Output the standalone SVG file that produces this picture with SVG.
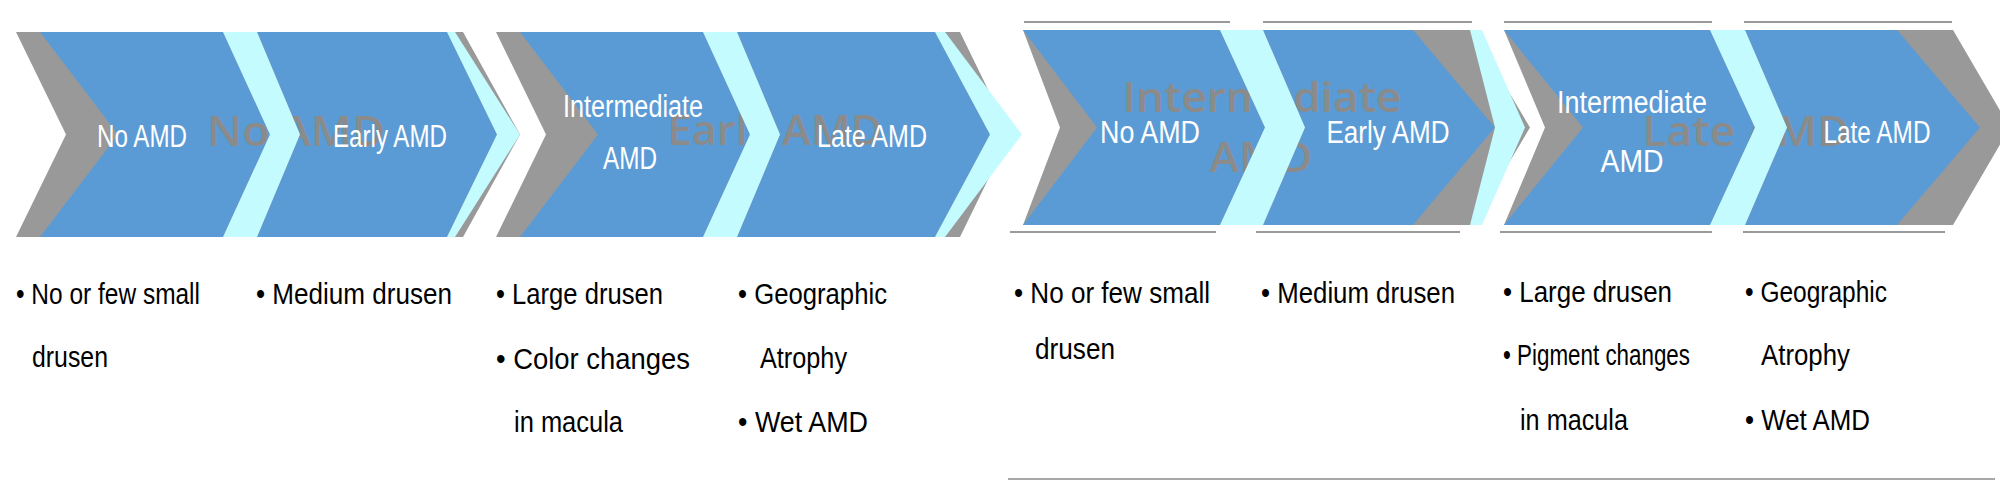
<svg xmlns="http://www.w3.org/2000/svg" width="2000" height="481" viewBox="0 0 2000 481">
<style>
.bg{fill:#999999}
.bl{fill:#5B9BD5}
.cy{fill:#C4FBFF}
.gl{font-family:"Open Sans","Liberation Sans",sans-serif;font-size:41px;font-weight:600;fill:#8b8b8b;text-anchor:middle}
.wl{font-family:"Liberation Sans",Arial,sans-serif;font-size:31px;fill:#ffffff;text-anchor:middle}
.bt{font-family:"Liberation Sans",Arial,sans-serif;font-size:30px;fill:#000000}
.rail{stroke:#9a9a9a;stroke-width:2;fill:none}
</style>
<rect width="2000" height="481" fill="#ffffff"/>

<g id="stage-backdrops">
  <polygon class="bg" points="16,32 463,32 520,134.5 463,237 16,237 66,134.5"/>
  <polygon class="bg" points="496,32 960,32 1010,134.5 960,237 496,237 546,134.5"/>
  <polygon class="bg" points="1023,30 1472,30 1530,127.5 1472,225 1023,225 1060,127.5"/>
  <polygon class="bg" points="1504,30 1953,30 2010,127.5 1953,225 1504,225 1545,127.5"/>
</g>

<g id="node-L1"><polygon class="bl" points="40,32 223,32 270,134.5 223,237 40,237 118,134.5"/></g>
<g id="node-L2"><polygon class="bl" points="257,32 447,32 497,134.5 447,237 257,237 300,134.5"/></g>
<g id="node-L3"><polygon class="bl" points="520,32 703,32 750,134.5 703,237 520,237 598,134.5"/></g>
<g id="node-L4"><polygon class="bl" points="737,32 935,32 990,134.5 935,237 737,237 780,134.5"/></g>
<g id="node-R1"><polygon class="bl" points="1023,30 1220,30 1265,127.5 1220,225 1023,225 1097,127.5"/></g>
<g id="node-R2"><polygon class="bl" points="1263,30 1413,30 1495,127.5 1413,225 1263,225 1305,127.5"/></g>
<g id="node-R3"><polygon class="bl" points="1504,30 1710,30 1755,127.5 1710,225 1504,225 1583,127.5"/></g>
<g id="node-R4"><polygon class="bl" points="1745,30 1897,30 1980,127.5 1897,225 1745,225 1787,127.5"/></g>

<g id="stage-labels">
  <text class="gl" x="296" y="146" textLength="178" lengthAdjust="spacingAndGlyphs">No AMD</text>
  <text class="gl" x="775" y="145" textLength="215" lengthAdjust="spacingAndGlyphs">Early AMD</text>
  <text class="gl" x="1262" y="112" textLength="279" lengthAdjust="spacingAndGlyphs">Intermediate</text>
  <text class="gl" x="1261" y="172" textLength="103" lengthAdjust="spacingAndGlyphs">AMD</text>
  <text class="gl" x="1746" y="146" textLength="207" lengthAdjust="spacingAndGlyphs">Late AMD</text>
</g>

<g id="connectors">
  <polygon class="cy" points="223,32 257,32 300,134.5 257,237 223,237 270,134.5"/>
  <polygon class="cy" points="447,32 455,32 520,134.5 455,237 447,237 497,134.5"/>
  <polygon class="cy" points="703,32 737,32 780,134.5 737,237 703,237 750,134.5"/>
  <polygon class="cy" points="935,32 945,32 1022,134.5 945,237 935,237 990,134.5"/>
  <polygon class="cy" points="1220,30 1263,30 1305,127.5 1263,225 1220,225 1265,127.5"/>
  <polygon class="cy" points="1470,30 1482,30 1525,127.5 1482,225 1470,225 1495,127.5"/>
  <polygon class="cy" points="1710,30 1745,30 1787,127.5 1745,225 1710,225 1755,127.5"/>
</g>

<g id="rails">
  <line class="rail" x1="1024" y1="22" x2="1230" y2="22"/>
  <line class="rail" x1="1263" y1="22" x2="1472" y2="22"/>
  <line class="rail" x1="1504" y1="22" x2="1712" y2="22"/>
  <line class="rail" x1="1744" y1="22" x2="1952" y2="22"/>
  <line class="rail" x1="1010" y1="232" x2="1216" y2="232"/>
  <line class="rail" x1="1256" y1="232" x2="1460" y2="232"/>
  <line class="rail" x1="1500" y1="232" x2="1712" y2="232"/>
  <line class="rail" x1="1743" y1="232" x2="1945" y2="232"/>
  <line x1="1008" y1="479" x2="1995" y2="479" stroke="#8a8a8a" stroke-width="1.5"/>
</g>

<g id="node-labels">
  <text class="wl" x="142" y="147" textLength="90" lengthAdjust="spacingAndGlyphs">No AMD</text>
  <text class="wl" x="390" y="147" textLength="114" lengthAdjust="spacingAndGlyphs">Early AMD</text>
  <text class="wl" x="633" y="117" textLength="140" lengthAdjust="spacingAndGlyphs">Intermediate</text>
  <text class="wl" x="630" y="169" textLength="54" lengthAdjust="spacingAndGlyphs">AMD</text>
  <text class="wl" x="872" y="147" textLength="110" lengthAdjust="spacingAndGlyphs">Late AMD</text>
  <text class="wl" x="1150" y="143" textLength="100" lengthAdjust="spacingAndGlyphs">No AMD</text>
  <text class="wl" x="1388" y="143" textLength="123" lengthAdjust="spacingAndGlyphs">Early AMD</text>
  <text class="wl" x="1632" y="113" textLength="150" lengthAdjust="spacingAndGlyphs">Intermediate</text>
  <text class="wl" x="1632" y="172" textLength="63" lengthAdjust="spacingAndGlyphs">AMD</text>
  <text class="wl" x="1877" y="143" textLength="107" lengthAdjust="spacingAndGlyphs">Late AMD</text>
</g>

<g id="descriptions">
  <text class="bt" x="16" y="304" textLength="184" lengthAdjust="spacingAndGlyphs">• No or few small</text>
  <text class="bt" x="32" y="367" textLength="76" lengthAdjust="spacingAndGlyphs">drusen</text>
  <text class="bt" x="256" y="304" textLength="196" lengthAdjust="spacingAndGlyphs">• Medium drusen</text>
  <text class="bt" x="496" y="304" textLength="167" lengthAdjust="spacingAndGlyphs">• Large drusen</text>
  <text class="bt" x="496" y="369" textLength="194" lengthAdjust="spacingAndGlyphs">• Color changes</text>
  <text class="bt" x="514" y="432" textLength="109" lengthAdjust="spacingAndGlyphs">in macula</text>
  <text class="bt" x="738" y="304" textLength="149" lengthAdjust="spacingAndGlyphs">• Geographic</text>
  <text class="bt" x="760" y="368" textLength="87" lengthAdjust="spacingAndGlyphs">Atrophy</text>
  <text class="bt" x="738" y="432" textLength="130" lengthAdjust="spacingAndGlyphs">• Wet AMD</text>

  <text class="bt" x="1014" y="303" textLength="196" lengthAdjust="spacingAndGlyphs">• No or few small</text>
  <text class="bt" x="1035" y="359" textLength="80" lengthAdjust="spacingAndGlyphs">drusen</text>
  <text class="bt" x="1261" y="303" textLength="194" lengthAdjust="spacingAndGlyphs">• Medium drusen</text>
  <text class="bt" x="1503" y="302" textLength="169" lengthAdjust="spacingAndGlyphs">• Large drusen</text>
  <text class="bt" x="1503" y="365" textLength="187" lengthAdjust="spacingAndGlyphs">• Pigment changes</text>
  <text class="bt" x="1520" y="430" textLength="108" lengthAdjust="spacingAndGlyphs">in macula</text>
  <text class="bt" x="1745" y="302" textLength="142" lengthAdjust="spacingAndGlyphs">• Geographic</text>
  <text class="bt" x="1761" y="365" textLength="89" lengthAdjust="spacingAndGlyphs">Atrophy</text>
  <text class="bt" x="1745" y="430" textLength="125" lengthAdjust="spacingAndGlyphs">• Wet AMD</text>
</g>
</svg>
